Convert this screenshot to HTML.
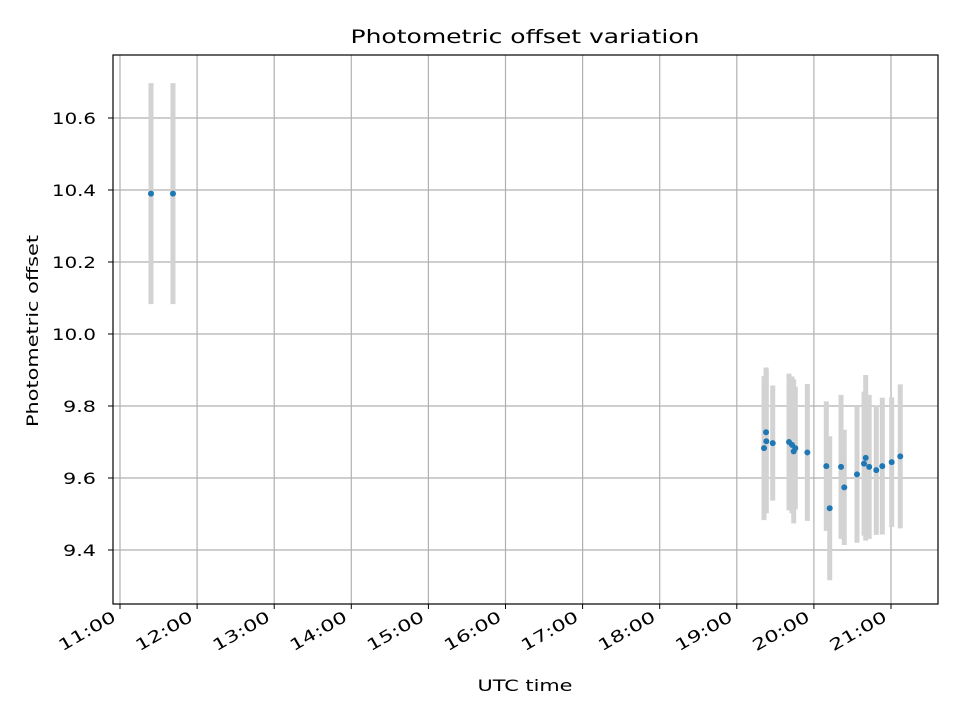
<!DOCTYPE html>
<html><head><meta charset="utf-8"><style>
body{margin:0;background:#fff;font-family:"Liberation Sans","DejaVu Sans",sans-serif}
text{font-family:"DejaVu Sans","Liberation Sans",sans-serif;fill:#000}
</style></head><body>
<svg id="chart" width="960" height="720" xmlns="http://www.w3.org/2000/svg">
<rect width="960" height="720" fill="#fff"/>
<g id="grid"></g><g id="bars"></g><g id="pts"></g><g id="axes"></g>
<text x="525" y="43" font-size="19" text-anchor="middle" textLength="349" lengthAdjust="spacingAndGlyphs">Photometric offset variation</text>
<text x="525" y="691" font-size="16" text-anchor="middle" textLength="95" lengthAdjust="spacingAndGlyphs">UTC time</text>
<text transform="translate(38,331) rotate(-90)" font-size="16" text-anchor="middle" textLength="192" lengthAdjust="spacingAndGlyphs">Photometric offset</text>
</svg>
<script>
const times=[11.402,11.687,19.353,19.379,19.383,19.466,19.677,19.716,19.759,19.738,19.915,20.161,20.205,20.352,20.394,20.559,20.672,20.650,20.717,20.809,20.887,21.009,21.120];
const offsets=[10.39,10.39,9.683,9.727,9.702,9.697,9.700,9.692,9.683,9.674,9.671,9.633,9.516,9.631,9.574,9.610,9.656,9.640,9.631,9.622,9.633,9.644,9.660];
const errors=[0.307,0.307,0.20,0.18,0.20,0.16,0.19,0.19,0.17,0.20,0.19,0.18,0.20,0.20,0.16,0.19,0.23,0.20,0.20,0.18,0.19,0.18,0.20];
const yTicks=[9.4,9.6,9.8,10.0,10.2,10.4,10.6];
const xTicks=[11,12,13,14,15,16,17,18,19,20,21];
const L=113,R=938,T=55,B=604;
const xs=h=>120+(h-11)*77.1;
const ys=v=>334-(v-10)*360;
const NS="http://www.w3.org/2000/svg";
function mk(tag,attrs,parent){const e=document.createElementNS(NS,tag);for(const k in attrs)e.setAttribute(k,attrs[k]);document.getElementById(parent).appendChild(e);return e;}
yTicks.forEach(v=>{const y=ys(v);
 const g=mk('line',{x1:L,x2:R,y1:y,y2:y,stroke:'#b0b0b0','stroke-width':1.2},'grid');
 
 
 mk('line',{x1:L-5,x2:L,y1:y,y2:y,stroke:'#000'},'axes');
 const s=v.toFixed(1);
 const t=mk('text',{x:L-17,y:y+6,'font-size':16,'text-anchor':'end',textLength:s.length*11,lengthAdjust:'spacingAndGlyphs'},'axes');t.textContent=s;
 
 
});
xTicks.forEach(h=>{const x=xs(h);
 const g=mk('line',{x1:x,x2:x,y1:T,y2:B,stroke:'#b0b0b0','stroke-width':1.2},'grid');
 
 
 mk('line',{x1:x,x2:x,y1:B,y2:B+5,stroke:'#000'},'axes');
 const t=mk('text',{x:x-3,y:B+16,'font-size':16,'text-anchor':'end',textLength:63,lengthAdjust:'spacingAndGlyphs',transform:`rotate(-30 ${x-3} ${B+16})`},'axes');t.textContent=h+':00';
 
 
});
const fr=mk('rect',{x:L,y:T,width:R-L,height:B-T,fill:'none',stroke:'#000','stroke-width':1.2},'axes');


times.forEach((h,i)=>{const x=xs(h);
 const b=mk('line',{x1:x,x2:x,y1:ys(offsets[i]+errors[i]),y2:ys(offsets[i]-errors[i]),stroke:'#d3d3d3','stroke-width':5},'bars');
 
 
 const c=mk('circle',{cx:x,cy:ys(offsets[i]),r:3,fill:'#1f77b4'},'pts');
 
 
});
</script>
</body></html>
